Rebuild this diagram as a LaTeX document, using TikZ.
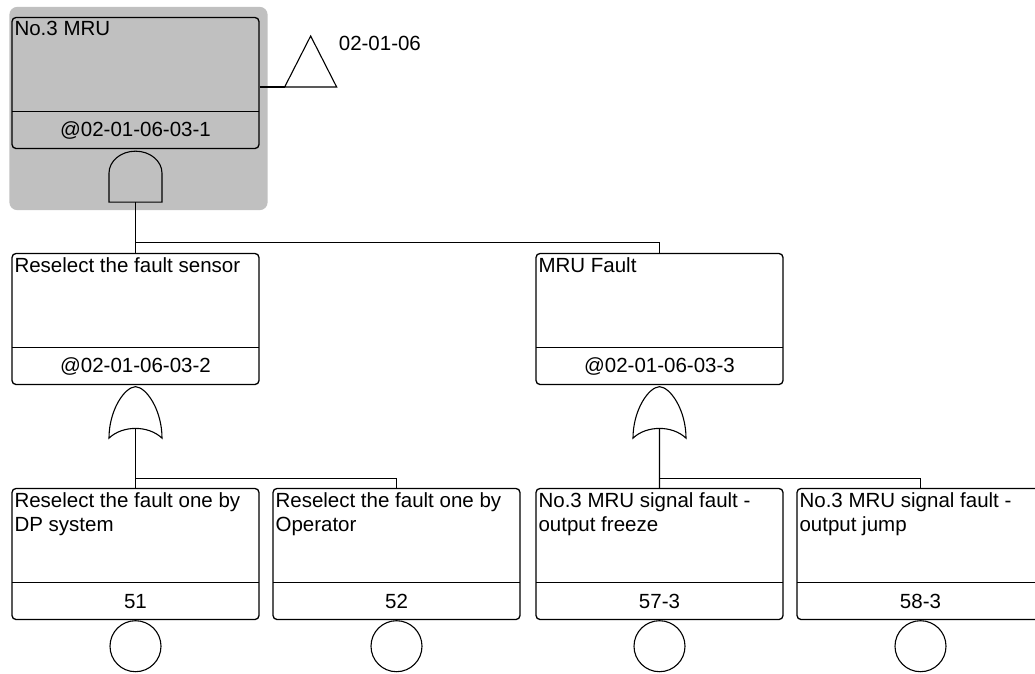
\documentclass[tikz,border=0pt]{standalone}
\usepackage{fontspec}
\setmainfont{Liberation Sans}
\usepackage{tikz}
\usetikzlibrary{backgrounds,calc,positioning}
\definecolor{ftgray}{HTML}{C0C0C0}
\definecolor{ftline}{HTML}{000000}
\tikzset{
  event/.style={draw=ftline,line width=1.3pt,rounded corners=4pt,minimum width=247pt,
    minimum height=131pt,inner sep=0pt,
    path picture={\draw[line width=1.3pt] ([yshift=37pt]path picture bounding box.south west)
      --([yshift=37pt]path picture bounding box.south east);}},
  etitle/.style={anchor=north west,inner sep=0pt,align=left,font=\fontsize{20.5pt}{24pt}\selectfont},
  ecode/.style={inner sep=0pt,font=\fontsize{20.5pt}{24pt}\selectfont},
  basic/.style={draw=ftline,circle,line width=1.1pt,minimum size=51pt,inner sep=0pt},
  gate/.style={draw=ftline,line width=1.1pt},
  link/.style={draw=ftline,line width=1.1pt}
}

\begin{document}
\begin{tikzpicture}[x=1pt,y=-1pt,node distance=12.7pt]
  \useasboundingbox (0,0) rectangle (1035,673);
  \clip (0,0) rectangle (1035,673);
  % events
  \node[event] (top) at (135.5,83) {};
  \node[event,below=103.7pt of top] (rsel) {};
  \node[event,right=275.7pt of rsel] (mru) {};
  \node[event,below=102.7pt of rsel] (dp) {};
  \node[event,right=of dp] (opr) {};
  \node[event,right=14.7pt of opr] (frz) {};
  \node[event,right=of frz] (jmp) {};
  \node[etitle] (topt) at ($(top.north west)+(3,4.5)$) {No.3 MRU};
  \node[ecode] (topc) at ($(top.south)+(0,-18.5)$) {@02-01-06-03-1};
  \node[etitle] (rselt) at ($(rsel.north west)+(3,4.5)$) {Reselect the fault sensor};
  \node[ecode] (rselc) at ($(rsel.south)+(0,-18.5)$) {@02-01-06-03-2};
  \node[etitle] (mrut) at ($(mru.north west)+(3,4.5)$) {MRU Fault};
  \node[ecode] (mruc) at ($(mru.south)+(0,-18.5)$) {@02-01-06-03-3};
  \node[etitle] (dpt) at ($(dp.north west)+(3,4.5)$) {Reselect the fault one by\\DP system};
  \node[ecode] (dpc) at ($(dp.south)+(0,-18.5)$) {51};
  \node[etitle] (oprt) at ($(opr.north west)+(3,4.5)$) {Reselect the fault one by\\Operator};
  \node[ecode] (oprc) at ($(opr.south)+(0,-18.5)$) {52};
  \node[etitle] (frzt) at ($(frz.north west)+(3,4.5)$) {No.3 MRU signal fault -\\output freeze};
  \node[ecode] (frzc) at ($(frz.south)+(0,-18.5)$) {57-3};
  \node[etitle] (jmpt) at ($(jmp.north west)+(3,4.5)$) {No.3 MRU signal fault -\\output jump};
  \node[ecode] (jmpc) at ($(jmp.south)+(0,-18.5)$) {58-3};
  % basic events
  \node[basic,below=0pt of dp] (b51) {};
  \node[basic,below=0pt of opr] (b52) {};
  \node[basic,below=0pt of frz] (b57) {};
  \node[basic,below=0pt of jmp] (b58) {};
  % gates
  \coordinate (and1) at ($(top.south)+(0,53)$);
  \draw[gate] ($(and1)+(-26.5,0)$) -- ++(0,-29)
    arc[start angle=180,end angle=0,x radius=26.5pt,y radius=22pt] -- ++(0,29) -- cycle;
  \coordinate (or1) at ($(rsel.south)+(0,43)$);
  \draw[gate] ($(or1)+(-26.5,10)$) .. controls ($(or1)+(-26.5,-18)$) and ($(or1)+(-11,-41)$) .. ($(or1)+(0,-41.5)$)
    .. controls ($(or1)+(11,-41)$) and ($(or1)+(26.5,-18)$) .. ($(or1)+(26.5,10)$)
    .. controls ($(or1)+(13,-3)$) and ($(or1)+(-13,-3)$) .. ($(or1)+(-26.5,10)$) -- cycle;
  \coordinate (or2) at ($(mru.south)+(0,43)$);
  \draw[gate] ($(or2)+(-26.5,10)$) .. controls ($(or2)+(-26.5,-18)$) and ($(or2)+(-11,-41)$) .. ($(or2)+(0,-41.5)$)
    .. controls ($(or2)+(11,-41)$) and ($(or2)+(26.5,-18)$) .. ($(or2)+(26.5,10)$)
    .. controls ($(or2)+(13,-3)$) and ($(or2)+(-13,-3)$) .. ($(or2)+(-26.5,10)$) -- cycle;
  % transfer
  \coordinate (xf) at ($(top.east)+(25,4)$);
  \draw[link] (top.east |- xf) -- (xf);
  \draw[gate] (xf) -- ++(26,-51) -- ++(26,51) -- cycle;
  \node[ecode,anchor=west] (xft) at ($(xf)+(54,-44)$) {02-01-06};
  % links
  \coordinate (j1) at ($(and1)+(0,40)$);
  \draw[link] (and1) -- (rsel.north);
  \draw[link] (j1) -| (mru.north);
  \coordinate (j2) at ($(or1)+(0,50.5)$);
  \draw[link] (or1) -- (dp.north);
  \draw[link] (j2) -| (opr.north);
  \coordinate (j3) at ($(or2)+(0,50.5)$);
  \draw[link] (or2) -- (frz.north);
  \draw[link] (j3) -| (jmp.north);
  \begin{scope}[on background layer]
    \fill[ftgray,rounded corners=8pt] ($(top.north west)+(-2,-10)$) rectangle ($(top.south east)+(8,61)$);
  \end{scope}
\end{tikzpicture}
\end{document}
